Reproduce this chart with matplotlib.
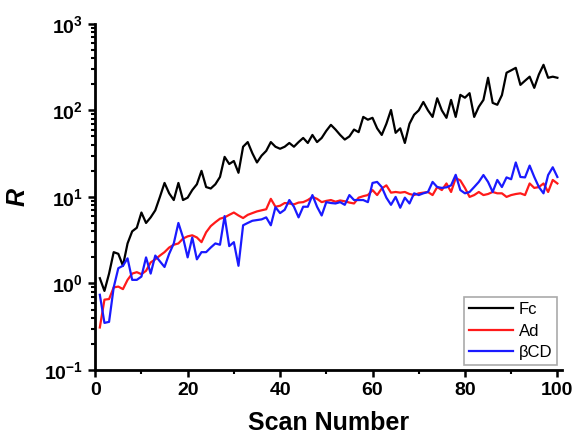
import numpy as np
import matplotlib
matplotlib.use("Agg")
import matplotlib.pyplot as plt
from matplotlib.ticker import MultipleLocator, LogLocator, NullFormatter

plt.rcParams['font.family'] = ['Liberation Sans', 'DejaVu Sans']
plt.rcParams['mathtext.fontset'] = 'custom'
plt.rcParams['mathtext.rm'] = 'Liberation Sans:bold'
plt.rcParams['mathtext.bf'] = 'Liberation Sans:bold'

# data (scan 1..100)
scans = list(range(1, 101))
fc = [1.15, 0.82, 1.3, 2.3, 2.2, 1.6, 2.9, 4.0, 4.4, 6.6,
      5.0, 5.8, 7.0, 10, 14.5, 11, 9.2, 14.5, 9.2, 9.8,
      12, 14, 20, 13, 12.5, 14, 17, 29, 24, 26,
      19, 38, 43, 32, 25, 30, 34, 43, 38, 36,
      38, 42, 38, 43, 48, 42, 52, 43, 48, 58,
      68, 60, 52, 46, 50, 60, 56, 84, 78, 82,
      62, 52, 70, 101, 55, 62, 42, 70, 89, 100,
      125, 100, 84, 138, 100, 82, 132, 84, 151, 140,
      158, 84, 110, 132, 238, 122, 116, 150, 272, 290,
      310, 197, 220, 245, 182, 260, 336, 238, 245, 238]
ad = [0.31, 0.65, 0.66, 0.9, 0.92, 0.86, 1.1, 1.3, 1.35, 1.28,
      1.4, 1.75, 1.9, 2.1, 2.3, 2.6, 2.8, 2.9, 3.3, 3.5,
      3.6, 3.4, 3.0, 3.9, 4.6, 5.1, 5.6, 5.8, 6.2, 6.6,
      6.1, 5.7, 6.2, 6.5, 6.8, 7.0, 7.2, 9.5, 7.7, 7.9,
      8.5, 8.4, 8.2, 8.6, 8.7, 9.2, 10.0, 9.5, 8.7, 9.0,
      9.2, 8.8, 9.1, 8.9, 8.6, 8.4, 9.8, 10.2, 10.5, 12.0,
      10.5, 12.5, 13.6, 11.2, 11.4, 11.2, 11.4, 10.8, 10.5, 11.0,
      11.2, 11.4, 10.5, 13.0, 12.0, 14.3, 11.4, 16.5, 15.5, 12.7,
      10.0, 10.5, 11.4, 10.5, 10.8, 11.4, 11.0, 11.0, 10.0, 10.5,
      10.8, 11.0, 10.5, 14.3, 12.7, 13.0, 14.3, 11.4, 15.7, 14.3]
bcd = [0.74, 0.35, 0.36, 0.9, 1.5, 1.6, 1.95, 1.1, 1.1, 1.2,
       2.0, 1.3, 2.1, 1.8, 1.55, 2.2, 2.9, 5.0, 3.4, 2.0,
       3.4, 1.9, 2.3, 2.3, 2.6, 2.9, 2.8, 6.0, 2.7, 3.0,
       1.6, 4.7, 5.0, 5.3, 5.4, 5.5, 5.8, 4.7, 7.6, 6.5,
       7.1, 9.2, 7.7, 5.8, 7.7, 7.7, 10.5, 7.7, 6.1, 8.7,
       8.5, 8.4, 8.7, 8.1, 10.5, 9.2, 9.2, 9.2, 8.7, 14.5,
       14.9, 13.0, 9.8, 8.1, 10.0, 7.5, 9.8, 8.4, 11.0, 10.5,
       11.0, 11.4, 14.9, 13.0, 12.7, 12.9, 13.6, 18.0, 12.0, 11.0,
       11.4, 13.0, 14.9, 17.9, 14.9, 11.4, 15.7, 13.0, 16.8, 16.0,
       25.0, 17.0, 16.8, 23.0, 17.0, 13.0, 11.0, 17.9, 22.0, 17.0]

xticks = [0, 20, 40, 60, 80, 100]
yticks = [0.1, 1, 10, 100, 1000]
ylabels = [r'$\mathbf{10^{-1}}$', r'$\mathbf{10^{0}}$', r'$\mathbf{10^{1}}$',
           r'$\mathbf{10^{2}}$', r'$\mathbf{10^{3}}$']

fig = plt.figure(figsize=(5.77, 4.41), dpi=100)
ax = fig.add_axes([0.165, 0.161, 0.809, 0.785])

ax.plot(scans, fc, color='black', lw=1.6, label='Fc')
ax.plot(scans, ad, color='#ff1a1a', lw=1.6, label='Ad')
ax.plot(scans, bcd, color='#1a1aff', lw=1.6, label='βCD')

ax.set_yscale('log')
ax.set_ylim(0.1, 1000)
ax.set_xlim(0, 101)
ax.set_xticks(xticks)
ax.set_xticklabels([str(v) for v in xticks], fontweight='bold', fontsize=14)
ax.xaxis.set_minor_locator(MultipleLocator(10))
ax.set_yticks(yticks)
ax.set_yticklabels(ylabels, fontsize=14)
ax.yaxis.set_minor_locator(LogLocator(base=10, subs=np.arange(2, 10)))
ax.yaxis.set_minor_formatter(NullFormatter())

ax.spines['top'].set_visible(False)
ax.spines['right'].set_visible(False)
for s in ['left', 'bottom']:
    ax.spines[s].set_linewidth(2)
ax.tick_params(which='major', direction='out', length=5, width=1.8, pad=4)
ax.tick_params(which='minor', direction='out', length=3, width=1.5)

ax.set_xlabel('Scan Number', fontsize=18, fontweight='bold', labelpad=8)
ax.set_ylabel('R', fontsize=18, fontweight='bold', fontstyle='italic')
ax.yaxis.set_label_coords(-0.14, 0.5)

leg = ax.legend(loc='lower right', fontsize=12, fancybox=False, framealpha=1,
                edgecolor='#aaaaaa', handlelength=2.6, handletextpad=0.35,
                labelspacing=0.38, borderpad=0.3, borderaxespad=0.3)
leg.get_frame().set_linewidth(1.2)

fig.savefig('out.png', dpi=100)
